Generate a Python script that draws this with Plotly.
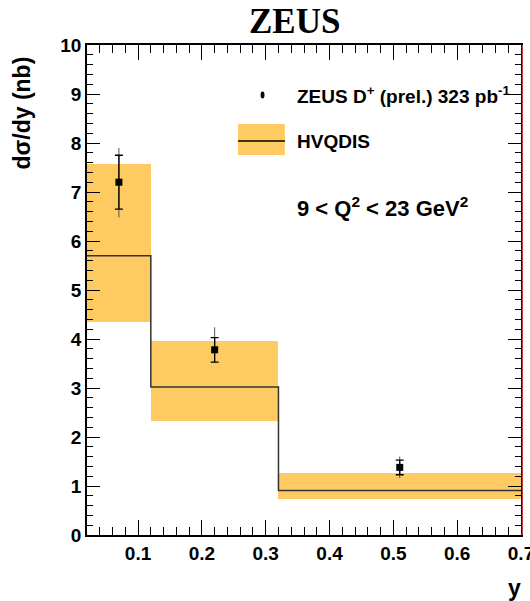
import plotly.graph_objects as go

# y-bin edges and HVQDIS prediction (central value with uncertainty band)
bin_edges = [0.02, 0.12, 0.32, 0.70]
theory_central = [5.70, 3.02, 0.91]
theory_low = [4.35, 2.32, 0.73]
theory_high = [7.57, 3.95, 1.27]

# ZEUS D+ measurement
data_y = [0.07, 0.22, 0.51]
data_xsec = [7.20, 3.78, 1.38]
stat_err = [0.55, 0.25, 0.15]
tot_err_up = [0.70, 0.46, 0.22]
tot_err_dn = [0.72, 0.27, 0.22]

x_ticks = [0.1, 0.2, 0.3, 0.4, 0.5, 0.6, 0.7]
y_ticks = list(range(0, 11))

ORANGE = "#FECB62"
FONT = "Liberation Sans"

fig = go.Figure()

# theory uncertainty band per bin
centers = [(a + b) / 2 for a, b in zip(bin_edges[:-1], bin_edges[1:])]
widths = [b - a for a, b in zip(bin_edges[:-1], bin_edges[1:])]
fig.add_trace(go.Bar(
    x=centers, width=widths, base=theory_low,
    y=[h - l for h, l in zip(theory_high, theory_low)],
    marker=dict(color=ORANGE, line=dict(width=0)),
    showlegend=False, hoverinfo="skip",
))

# theory central value as a step histogram
step_x = list(bin_edges)
step_y = list(theory_central) + [theory_central[-1]]
fig.add_trace(go.Scatter(
    x=step_x, y=step_y, mode="lines", line_shape="hv",
    line=dict(color="#333333", width=1.5),
    showlegend=False, hoverinfo="skip",
))

# total uncertainty (thin line, no caps)
fig.add_trace(go.Scatter(
    x=data_y, y=data_xsec, mode="markers",
    marker=dict(size=1, color="black"),
    error_y=dict(type="data", symmetric=False, array=tot_err_up,
                 arrayminus=tot_err_dn, color="#555555", thickness=1, width=0),
    showlegend=False,
))
# statistical uncertainty (with caps) and points
fig.add_trace(go.Scatter(
    x=data_y, y=data_xsec, mode="markers",
    marker=dict(symbol="square", size=7, color="black"),
    error_y=dict(type="data", array=stat_err, color="black",
                 thickness=1.3, width=4),
    showlegend=False,
))

axis_common = dict(
    showline=True, linecolor="black", linewidth=1.5, mirror="allticks",
    ticks="inside", tickcolor="black", tickwidth=1.3,
    showgrid=False, zeroline=False, automargin=False,
    ticklabeloverflow="allow",
    tickfont=dict(family=FONT, size=19, color="black", weight="bold"),
)
fig.update_xaxes(
    range=[0.02, 0.70], tickvals=x_ticks,
    ticktext=[f"{v:.1f}" for v in x_ticks], ticklen=15,
    minor=dict(dtick=0.02, tick0=0.0, ticks="inside", ticklen=8,
               tickcolor="black", tickwidth=1.2),
    **axis_common,
)
fig.update_yaxes(
    range=[0, 10], tickvals=y_ticks, ticklen=13,
    minor=dict(dtick=0.2, tick0=0.0, ticks="inside", ticklen=6,
               tickcolor="black", tickwidth=1.2),
    **axis_common,
)

# thin red edge along the right frame
fig.add_shape(type="line", xref="paper", yref="paper", x0=1.003, x1=1.003,
              y0=0, y1=1, line=dict(color="#E05050", width=1))

# legend drawn by hand
fig.add_shape(type="circle", xref="paper", yref="paper",
              x0=0.400, x1=0.409, y0=0.891, y1=0.905,
              fillcolor="black", line=dict(width=0))
fig.add_shape(type="rect", xref="paper", yref="paper",
              x0=0.348, x1=0.456, y0=0.7755, y1=0.839,
              fillcolor=ORANGE, line=dict(width=0))
fig.add_shape(type="line", xref="paper", yref="paper",
              x0=0.348, x1=0.456, y0=0.804, y1=0.804,
              line=dict(color="black", width=1.5))

label_font = dict(family=FONT, size=19, color="black", weight="bold")
fig.add_annotation(xref="paper", yref="paper", x=0.479, y=0.898,
                   xanchor="left", yanchor="middle", showarrow=False,
                   text="ZEUS D<sup>+</sup> (prel.) 323 pb<sup>-1</sup>",
                   font=label_font)
fig.add_annotation(xref="paper", yref="paper", x=0.479, y=0.804,
                   xanchor="left", yanchor="middle", showarrow=False,
                   text="HVQDIS", font=label_font)
fig.add_annotation(xref="paper", yref="paper", x=0.479, y=0.669,
                   xanchor="left", yanchor="middle", showarrow=False,
                   text="9 < Q<sup>2</sup> < 23 GeV<sup>2</sup>",
                   font=dict(family=FONT, size=22, color="black", weight="bold"))

# titles
fig.add_annotation(xref="paper", yref="paper", x=0.479, y=1.047,
                   xanchor="center", yanchor="middle", showarrow=False,
                   text="ZEUS",
                   font=dict(family="Liberation Serif", size=35, color="black",
                             weight="bold"))
fig.add_annotation(xref="paper", yref="paper", x=-0.15, y=0.862,
                   xanchor="center", yanchor="middle", showarrow=False,
                   textangle=-90, text="dσ/dy (nb)",
                   font=dict(family=FONT, size=23, color="black", weight="bold"))
fig.add_annotation(xref="paper", yref="paper", x=0.986, y=-0.108,
                   xanchor="center", yanchor="middle", showarrow=False,
                   text="y",
                   font=dict(family=FONT, size=23, color="black", weight="bold"))

fig.update_layout(
    width=530, height=601,
    margin=dict(l=87, r=9, t=45, b=66),
    plot_bgcolor="white", paper_bgcolor="white",
    bargap=0, showlegend=False,
)

fig.write_html("out.html")
